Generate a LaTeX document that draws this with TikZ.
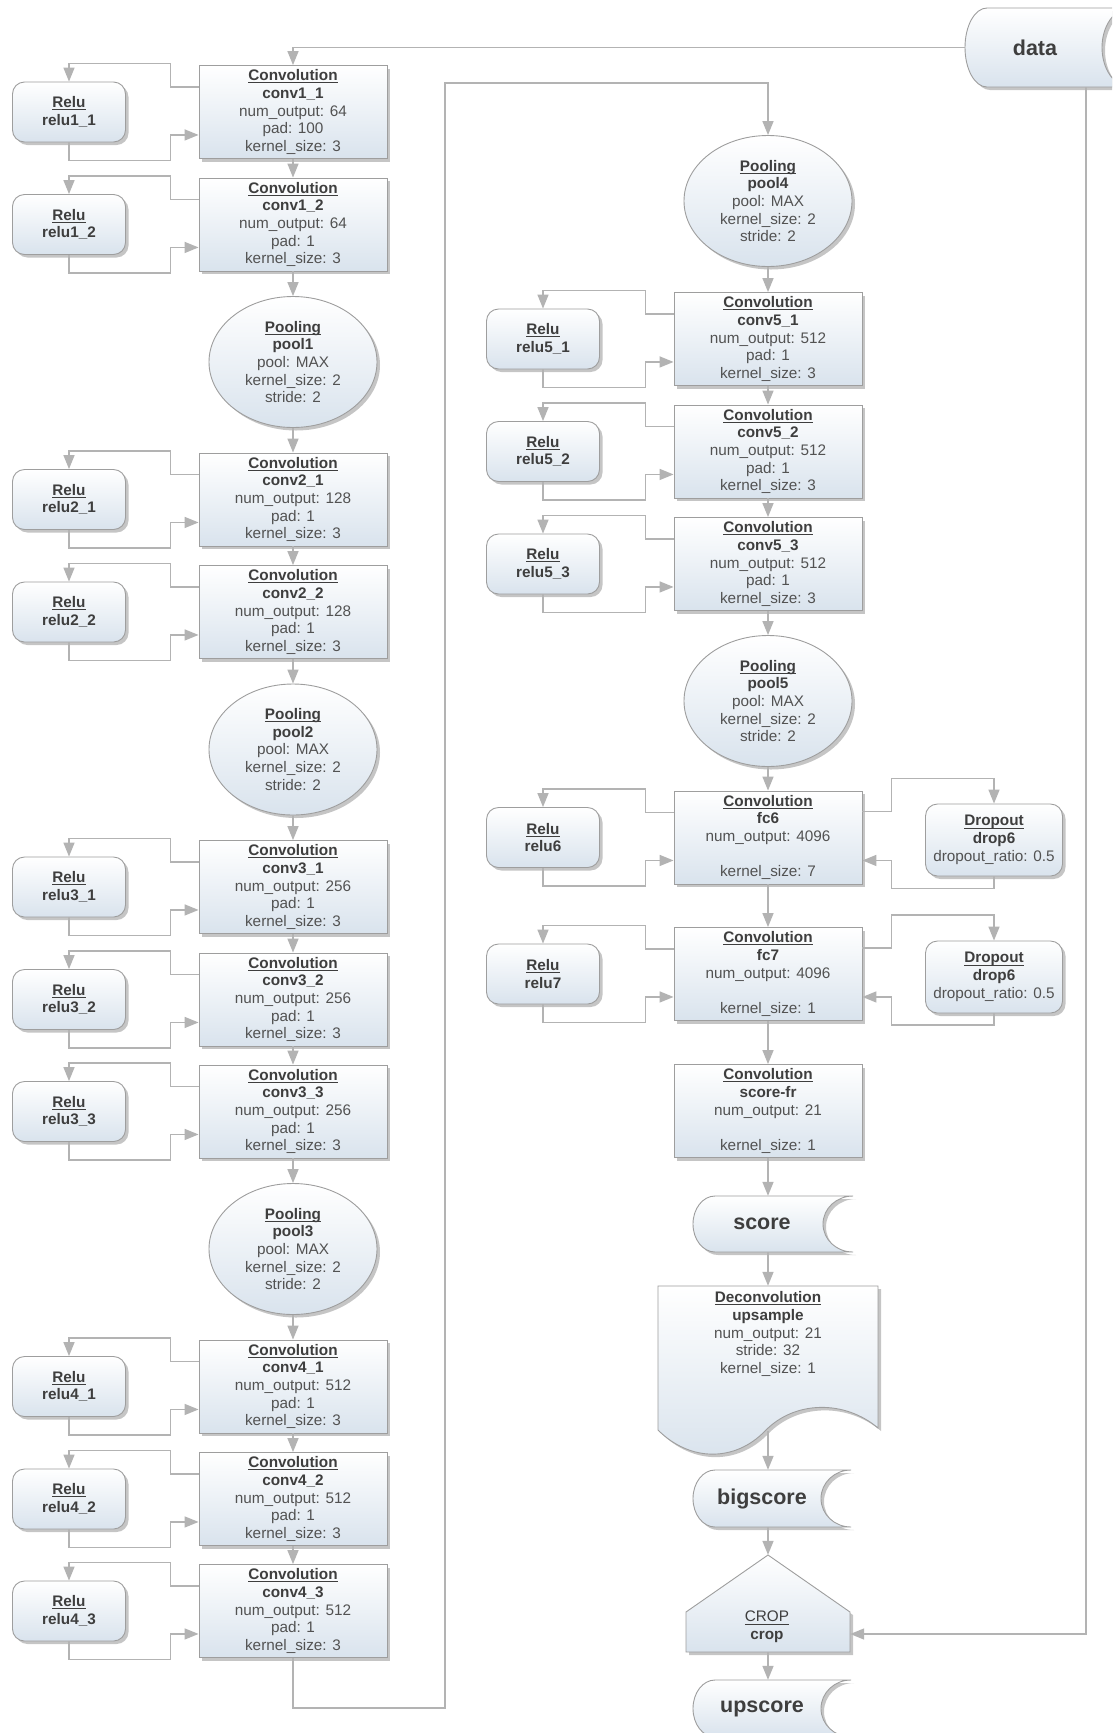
\documentclass[tikz,border=0pt]{standalone}
\usepackage{fontspec}
\setmainfont{Liberation Sans}
\usetikzlibrary{arrows.meta,shapes.geometric,shadows,calc}
\definecolor{linecol}{HTML}{B3B3B3}
\definecolor{bordercol}{HTML}{9E9E9E}
\definecolor{boxbot}{HTML}{D9E3ED}
\definecolor{titlecol}{HTML}{3E3E3E}
\definecolor{paramcol}{HTML}{525252}
\newcommand\lyline[1]{\leavevmode\setbox0\hbox{#1}\rlap{\rule[-2.6pt]{\wd0}{0.9pt}}\box0}
\newcommand\lyT[1]{{\bfseries\color{titlecol}\lyline{#1}}}
\newcommand\lyN[1]{{\bfseries\color{titlecol}#1}}
\newcommand\lyU[1]{{\color{titlecol}\lyline{#1}}}
\tikzset{
  myshadow/.style={drop shadow={shadow xshift=3pt, shadow yshift=-3pt, opacity=0.45, fill=black!50}},
  base/.style={draw=bordercol, line width=0.9pt, top color=white, bottom color=boxbot, myshadow,
    inner sep=0pt, align=center, text=paramcol, font=\fontsize{15.3}{17.7}\selectfont},
  convbox/.style={base, rectangle, minimum width=188pt, minimum height=93pt},
  relubox/.style={base, rectangle, rounded corners=12pt, minimum width=113pt, minimum height=60pt},
  dropbox/.style={base, rectangle, rounded corners=12pt, minimum width=137pt, minimum height=72pt},
  poolbox/.style={base, ellipse, minimum width=168pt, minimum height=131pt},
  shapefill/.style={draw=bordercol, line width=0.9pt, top color=white, bottom color=boxbot, myshadow},
  storenode/.style={rectangle, draw=none, inner sep=0pt, text=titlecol, font=\fontsize{21.5}{24}\selectfont\bfseries},
  anchorbox/.style={rectangle, draw=none, inner sep=0pt},
  plaintext/.style={rectangle, draw=none, inner sep=0pt, align=center, text=paramcol, font=\fontsize{15.3}{17.7}\selectfont},
  arr/.style={draw=linecol, line width=1.5pt, -{Triangle[length=14pt,width=11pt]}},
}
\newcommand\reluloop[2]{%
  \draw[arr] ($(#1.north west)+(0,22)$) -| ($(#1.north west)+(-28,-1.5)$) -| (#2.north);
  \draw[arr] (#2.south) |- ($(#1.south west)+(-28,1.5)$) |- ($(#1.south west)+(0,-24)$);
}
\newcommand\droploop[2]{%
  \draw[arr] ($(#1.north east)+(0,21)$) -| ($(#1.north east)+(29,-12)$) -| (#2.north);
  \draw[arr] (#2.south) |- ($(#1.south east)+(29,4)$) |- ($(#1.south east)+(0,-24)$);
}
\begin{document}
\begin{tikzpicture}[x=1pt,y=-1pt]
\useasboundingbox (0,0) rectangle (1112,1733);
\fill[white] (0,0) rectangle (1112,1733);
\clip (0,0) rectangle (1112,1733);

% ---------- custom shapes ----------
\path[shapefill] (987,8) -- (1130,8) arc[start angle=90,end angle=270,x radius=28pt,y radius=39.5pt]
  -- (987,87) arc[start angle=270,end angle=90,x radius=22pt,y radius=39.5pt] -- cycle;
\path[shapefill] (715,1196) -- (853,1196) arc[start angle=90,end angle=270,x radius=30pt,y radius=28pt]
  -- (715,1252) arc[start angle=270,end angle=90,x radius=22pt,y radius=28pt] -- cycle;
\path[shapefill] (715,1470) -- (851,1470) arc[start angle=90,end angle=270,x radius=30pt,y radius=28.5pt]
  -- (715,1527) arc[start angle=270,end angle=90,x radius=22pt,y radius=28.5pt] -- cycle;
\path[shapefill] (715,1680) -- (851,1680) arc[start angle=90,end angle=270,x radius=30pt,y radius=28.5pt]
  -- (715,1737) arc[start angle=270,end angle=90,x radius=22pt,y radius=28.5pt] -- cycle;
\path[shapefill] (658,1286) -- (878,1286) -- (878,1428) .. controls (845,1400) and (795,1400) .. (765,1431)
  .. controls (735,1462) and (690,1462) .. (658,1430) -- cycle;
\path[shapefill] (686,1652) -- (686,1612) -- (768,1555) -- (850,1612) -- (850,1652) -- cycle;

% ---------- store / shape nodes ----------
\node[storenode, minimum width=140pt, minimum height=79pt] (data) at (1035,47.5) {data};
\node[storenode, minimum width=150pt, minimum height=56pt] (score) at (768,1224) {score\hspace*{12pt}};
\node[storenode, minimum width=150pt, minimum height=57pt] (bigscore) at (768,1498.5) {bigscore\hspace*{12pt}};
\node[storenode, minimum width=150pt, minimum height=57pt] (upscore) at (768,1708.5) {upscore\hspace*{12pt}};
\node[anchorbox, minimum width=220pt, minimum height=145pt] (ups) at (768,1358.5) {};
\node[plaintext] (upstxt) at (768,1334) {\lyT{Deconvolution}\\\lyN{upsample}\\num\_output: 21\\stride: 32\\kernel\_size: 1};
\node[anchorbox, minimum width=164pt, minimum height=97pt] (crop) at (768,1603.5) {};
\node[plaintext] (croptxt) at (767,1627) {\lyU{CROP}\\\lyN{crop}};

% ---------- left column ----------
\node[convbox] (c11) at (293,112) {\lyT{Convolution}\\\lyN{conv1\_1}\\num\_output: 64\\pad: 100\\kernel\_size: 3};
\node[convbox] (c12) at (293,224.5) {\lyT{Convolution}\\\lyN{conv1\_2}\\num\_output: 64\\pad: 1\\kernel\_size: 3};
\node[poolbox] (p1) at (293,362) {\lyT{Pooling}\\\lyN{pool1}\\pool: MAX\\kernel\_size: 2\\stride: 2};
\node[convbox] (c21) at (293,499.5) {\lyT{Convolution}\\\lyN{conv2\_1}\\num\_output: 128\\pad: 1\\kernel\_size: 3};
\node[convbox] (c22) at (293,612) {\lyT{Convolution}\\\lyN{conv2\_2}\\num\_output: 128\\pad: 1\\kernel\_size: 3};
\node[poolbox] (p2) at (293,749.5) {\lyT{Pooling}\\\lyN{pool2}\\pool: MAX\\kernel\_size: 2\\stride: 2};
\node[convbox] (c31) at (293,887) {\lyT{Convolution}\\\lyN{conv3\_1}\\num\_output: 256\\pad: 1\\kernel\_size: 3};
\node[convbox] (c32) at (293,999.5) {\lyT{Convolution}\\\lyN{conv3\_2}\\num\_output: 256\\pad: 1\\kernel\_size: 3};
\node[convbox] (c33) at (293,1111.5) {\lyT{Convolution}\\\lyN{conv3\_3}\\num\_output: 256\\pad: 1\\kernel\_size: 3};
\node[poolbox] (p3) at (293,1249) {\lyT{Pooling}\\\lyN{pool3}\\pool: MAX\\kernel\_size: 2\\stride: 2};
\node[convbox] (c41) at (293,1386.5) {\lyT{Convolution}\\\lyN{conv4\_1}\\num\_output: 512\\pad: 1\\kernel\_size: 3};
\node[convbox] (c42) at (293,1499) {\lyT{Convolution}\\\lyN{conv4\_2}\\num\_output: 512\\pad: 1\\kernel\_size: 3};
\node[convbox] (c43) at (293,1611) {\lyT{Convolution}\\\lyN{conv4\_3}\\num\_output: 512\\pad: 1\\kernel\_size: 3};

\node[relubox] (r11) at (69,112) {\lyT{Relu}\\\lyN{relu1\_1}};
\node[relubox] (r12) at (69,224.5) {\lyT{Relu}\\\lyN{relu1\_2}};
\node[relubox] (r21) at (69,499.5) {\lyT{Relu}\\\lyN{relu2\_1}};
\node[relubox] (r22) at (69,612) {\lyT{Relu}\\\lyN{relu2\_2}};
\node[relubox] (r31) at (69,887) {\lyT{Relu}\\\lyN{relu3\_1}};
\node[relubox] (r32) at (69,999.5) {\lyT{Relu}\\\lyN{relu3\_2}};
\node[relubox] (r33) at (69,1111.5) {\lyT{Relu}\\\lyN{relu3\_3}};
\node[relubox] (r41) at (69,1386.5) {\lyT{Relu}\\\lyN{relu4\_1}};
\node[relubox] (r42) at (69,1499) {\lyT{Relu}\\\lyN{relu4\_2}};
\node[relubox] (r43) at (69,1611) {\lyT{Relu}\\\lyN{relu4\_3}};

% ---------- right column ----------
\node[poolbox] (p4) at (768,201) {\lyT{Pooling}\\\lyN{pool4}\\pool: MAX\\kernel\_size: 2\\stride: 2};
\node[convbox] (c51) at (768,339) {\lyT{Convolution}\\\lyN{conv5\_1}\\num\_output: 512\\pad: 1\\kernel\_size: 3};
\node[convbox] (c52) at (768,451.5) {\lyT{Convolution}\\\lyN{conv5\_2}\\num\_output: 512\\pad: 1\\kernel\_size: 3};
\node[convbox] (c53) at (768,564) {\lyT{Convolution}\\\lyN{conv5\_3}\\num\_output: 512\\pad: 1\\kernel\_size: 3};
\node[poolbox] (p5) at (768,701) {\lyT{Pooling}\\\lyN{pool5}\\pool: MAX\\kernel\_size: 2\\stride: 2};
\node[convbox] (fc6) at (768,837.5) {\lyT{Convolution}\\\lyN{fc6}\\num\_output: 4096\\\mbox{}\\kernel\_size: 7};
\node[convbox] (fc7) at (768,974) {\lyT{Convolution}\\\lyN{fc7}\\num\_output: 4096\\\mbox{}\\kernel\_size: 1};
\node[convbox] (sfr) at (768,1111) {\lyT{Convolution}\\\lyN{score-fr}\\num\_output: 21\\\mbox{}\\kernel\_size: 1};

\node[relubox] (r51) at (543,339) {\lyT{Relu}\\\lyN{relu5\_1}};
\node[relubox] (r52) at (543,451.5) {\lyT{Relu}\\\lyN{relu5\_2}};
\node[relubox] (r53) at (543,564) {\lyT{Relu}\\\lyN{relu5\_3}};
\node[relubox] (r6) at (543,837.5) {\lyT{Relu}\\\lyN{relu6}};
\node[relubox] (r7) at (543,974) {\lyT{Relu}\\\lyN{relu7}};
\node[dropbox] (d6) at (994,840) {\lyT{Dropout}\\\lyN{drop6}\\dropout\_ratio: 0.5};
\node[dropbox] (d7) at (994,977) {\lyT{Dropout}\\\lyN{drop6}\\dropout\_ratio: 0.5};

% ---------- connectors ----------
\draw[arr] (data.west) -| (c11.north);
\foreach \a/\b in {c11/c12, c12/p1, p1/c21, c21/c22, c22/p2, p2/c31, c31/c32, c32/c33, c33/p3, p3/c41, c41/c42, c42/c43,
  p4/c51, c51/c52, c52/c53, c53/p5, p5/fc6, fc6/fc7, fc7/sfr, sfr/score, score/ups, ups/bigscore, bigscore/crop, crop/upscore}
  \draw[arr] (\a) -- (\b);
\coordinate (lb) at (445,1708);
\coordinate (lt) at (445,83);
\draw[arr] (c43.south) |- (lb) -- (lt) -| (p4.north);
\coordinate (dturn) at (1086,1634);
\draw[arr] ($(data.south)+(51,0)$) -- (dturn) -- (dturn -| crop.east);

\reluloop{c11}{r11}
\reluloop{c12}{r12}
\reluloop{c21}{r21}
\reluloop{c22}{r22}
\reluloop{c31}{r31}
\reluloop{c32}{r32}
\reluloop{c33}{r33}
\reluloop{c41}{r41}
\reluloop{c42}{r42}
\reluloop{c43}{r43}
\reluloop{c51}{r51}
\reluloop{c52}{r52}
\reluloop{c53}{r53}
\reluloop{fc6}{r6}
\reluloop{fc7}{r7}
\droploop{fc6}{d6}
\droploop{fc7}{d7}
\end{tikzpicture}
\end{document}
